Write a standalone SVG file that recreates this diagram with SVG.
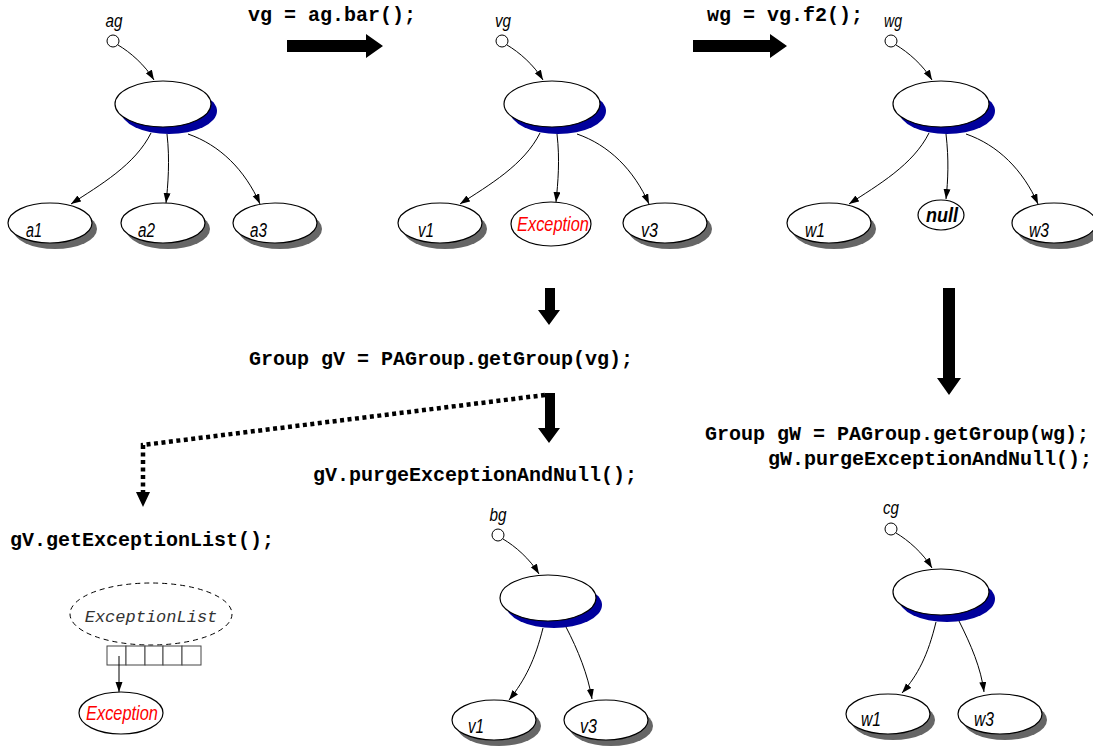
<svg xmlns="http://www.w3.org/2000/svg" width="1093" height="747" viewBox="0 0 1093 747">
<style>
.code{font-family:"Liberation Mono",monospace;font-weight:bold;font-size:20px;fill:#000}
.lbl{font-family:"Liberation Sans",Arial,sans-serif;font-style:italic;font-size:20px;fill:#000}
.var{font-family:"Liberation Sans",Arial,sans-serif;font-style:italic;font-size:18px;fill:#000}
.exc{font-family:"Liberation Sans",Arial,sans-serif;font-style:italic;font-size:20px;fill:#ff0000}
.nul{font-family:"Liberation Sans",Arial,sans-serif;font-style:italic;font-weight:bold;font-size:20px;fill:#000}
.el{fill:#fff;stroke:#000;stroke-width:1.2}
.bsh{fill:#00009c}
.gsh{fill:#666}
.edge{fill:none;stroke:#000;stroke-width:1;marker-end:url(#ah)}
.blk{fill:#000}
</style>
<defs>
<marker id="ah" markerUnits="userSpaceOnUse" markerWidth="11" markerHeight="8" refX="10" refY="3.5" orient="auto">
<path d="M0,0 L10,3.5 L0,7 z" fill="#000"/>
</marker>
<g id="mainT">
<circle cx="113" cy="41" r="6" fill="#fff" stroke="#000" stroke-width="1"/>
<path class="edge" d="M118,45 C130,52 145,65 154,80"/>
<ellipse class="bsh" cx="169" cy="111" rx="48" ry="23"/>
<ellipse class="el" cx="163" cy="104" rx="48" ry="23"/>
</g>
<g id="child">
<ellipse class="gsh" cx="5" cy="6" rx="42" ry="20"/>
<ellipse class="el" cx="0" cy="0" rx="42" ry="20"/>
</g>
</defs>

<!-- panel ag -->
<g id="panel-ag">
<use href="#mainT"/>
<text class="var" x="114" y="27" text-anchor="middle" textLength="17" lengthAdjust="spacingAndGlyphs">ag</text>
<use href="#child" x="50" y="223"/>
<use href="#child" x="163" y="223"/>
<use href="#child" x="275" y="223"/>
<text class="lbl" x="26" y="237" textLength="16" lengthAdjust="spacingAndGlyphs">a1</text>
<text class="lbl" x="138" y="237" textLength="17" lengthAdjust="spacingAndGlyphs">a2</text>
<text class="lbl" x="250" y="237" textLength="17" lengthAdjust="spacingAndGlyphs">a3</text>
</g>

<!-- panel vg -->
<g id="panel-vg">
<use href="#mainT" x="389"/>
<text class="var" x="503" y="27" text-anchor="middle" textLength="16" lengthAdjust="spacingAndGlyphs">vg</text>
<use href="#child" x="440" y="223"/>
<use href="#child" x="665" y="223"/>
<text class="lbl" x="418" y="237" textLength="16" lengthAdjust="spacingAndGlyphs">v1</text>
<text class="lbl" x="641" y="237" textLength="17" lengthAdjust="spacingAndGlyphs">v3</text>
<ellipse class="el" cx="551" cy="224" rx="40" ry="22"/>
<text class="exc" x="553" y="231" text-anchor="middle" textLength="72" lengthAdjust="spacingAndGlyphs">Exception</text>
</g>

<!-- panel wg -->
<g id="panel-wg">
<use href="#mainT" x="778"/>
<text class="var" x="893" y="27" text-anchor="middle" textLength="18" lengthAdjust="spacingAndGlyphs">wg</text>
<use href="#child" x="829" y="223"/>
<use href="#child" x="1054" y="223"/>
<text class="lbl" x="805" y="237" textLength="20" lengthAdjust="spacingAndGlyphs">w1</text>
<text class="lbl" x="1029" y="237" textLength="20" lengthAdjust="spacingAndGlyphs">w3</text>
<ellipse class="el" cx="941" cy="215" rx="23" ry="15"/>
<text class="nul" x="942" y="222" text-anchor="middle" textLength="32" lengthAdjust="spacingAndGlyphs">null</text>
</g>

<!-- panel bg -->
<g id="panel-bg">
<use href="#mainT" x="385" y="494"/>
<text class="var" x="498" y="521" text-anchor="middle" textLength="17" lengthAdjust="spacingAndGlyphs">bg</text>
<use href="#child" x="494" y="720"/>
<use href="#child" x="606" y="720"/>
<text class="lbl" x="468" y="733" textLength="16" lengthAdjust="spacingAndGlyphs">v1</text>
<text class="lbl" x="580" y="733" textLength="17" lengthAdjust="spacingAndGlyphs">v3</text>
</g>

<!-- panel cg -->
<g id="panel-cg">
<use href="#mainT" x="778" y="488"/>
<text class="var" x="891" y="514" text-anchor="middle" textLength="16" lengthAdjust="spacingAndGlyphs">cg</text>
<use href="#child" x="888" y="714"/>
<use href="#child" x="1000" y="714"/>
<text class="lbl" x="861" y="726" textLength="20" lengthAdjust="spacingAndGlyphs">w1</text>
<text class="lbl" x="974" y="726" textLength="20" lengthAdjust="spacingAndGlyphs">w3</text>
</g>

<!-- exception list -->
<g id="exception-list">
<ellipse cx="151" cy="614" rx="81" ry="31" fill="none" stroke="#000" stroke-width="1" stroke-dasharray="5,4"/>
<text x="151" y="622" text-anchor="middle" font-family="'Liberation Mono',monospace" font-style="italic" font-size="17" fill="#333">ExceptionList</text>
<g fill="#fff" stroke="#444" stroke-width="1">
<rect x="107" y="646" width="19" height="19"/>
<rect x="126" y="646" width="19" height="19"/>
<rect x="145" y="646" width="18" height="19"/>
<rect x="163" y="646" width="19" height="19"/>
<rect x="182" y="646" width="19" height="19"/>
</g>
</g>
<g id="exception-item">
<ellipse class="el" cx="121" cy="713" rx="42" ry="21"/>
<text class="exc" x="122" y="720" text-anchor="middle" textLength="72" lengthAdjust="spacingAndGlyphs">Exception</text>
</g>

<!-- code labels -->
<g id="code-labels">
<text class="code" x="248" y="21">vg = ag.bar();</text>
<text class="code" x="707" y="21">wg = vg.f2();</text>
<text class="code" x="249" y="365">Group gV = PAGroup.getGroup(vg);</text>
<text class="code" x="313" y="481">gV.purgeExceptionAndNull();</text>
<text class="code" x="10" y="546">gV.getExceptionList();</text>
<text class="code" x="705" y="440">Group gW = PAGroup.getGroup(wg);</text>
<text class="code" x="768" y="465">gW.purgeExceptionAndNull();</text>
</g>

<!-- connectors -->
<g id="connectors">
<path class="edge" d="M151,133 C135,165 100,185 71,204"/>
<path class="edge" d="M167,134 C170,160 168,185 166,203"/>
<path class="edge" d="M188,134 C220,145 245,170 260,204"/>
<path class="edge" d="M540,133 C524,165 489,185 460,204"/>
<path class="edge" d="M557,134 C560,160 558,182 556,202"/>
<path class="edge" d="M577,134 C609,145 634,170 649,204"/>
<path class="edge" d="M929,133 C913,165 878,185 849,204"/>
<path class="edge" d="M946,134 C949,160 948,180 946,199"/>
<path class="edge" d="M966,134 C998,145 1023,170 1038,204"/>
<path class="edge" d="M543,628 C535,660 525,680 509,700"/>
<path class="edge" d="M566,627 C578,650 588,675 592,699"/>
<path class="edge" d="M936,622 C928,655 918,675 902,693"/>
<path class="edge" d="M959,621 C971,645 981,668 984,692"/>
<path class="edge" d="M119,656 L119,692"/>
<polygon class="blk" points="287,40 366,40 366,34 383,46 366,58 366,52 287,52"/>
<polygon class="blk" points="693,40 770,40 770,34 787,46 770,58 770,52 693,52"/>
<polygon class="blk" points="545,288 555,288 555,310 560,310 549,325 538,310 545,310"/>
<polygon class="blk" points="545,393 555,393 555,428 560,428 549,443 538,428 545,428"/>
<polygon class="blk" points="943,288 955,288 955,378 961,378 949,395 937,378 943,378"/>
<path d="M545,395 L143,445 L143,492" fill="none" stroke="#000" stroke-width="4.5" stroke-dasharray="4,3.5"/>
<polygon class="blk" points="136,492 150,492 143,507"/>
</g>
</svg>
